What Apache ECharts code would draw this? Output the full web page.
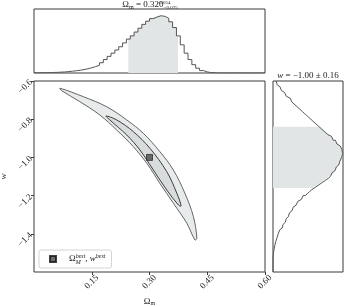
<!DOCTYPE html>
<html>
<head>
<meta charset="utf-8">
<script src="https://cdn.jsdelivr.net/npm/echarts@6/dist/echarts.min.js"></script>
<style>
  html, body { margin: 0; padding: 0; background: #fff; }
  #chart { width: 350px; height: 307px; }
</style>
</head>
<body>
<div id="chart"></div>
<script>
  // marginal of Omega_m, bins of 0.01 starting at 0.00
  var omStart = 0.0, omStep = 0.01;
  var omHist = [
    0.003, 0.004, 0.005, 0.006, 0.008, 0.010, 0.013, 0.016, 0.022, 0.028,
    0.035, 0.043, 0.053, 0.066, 0.082, 0.10, 0.12, 0.16, 0.21, 0.26,
    0.31, 0.36, 0.41, 0.47, 0.53, 0.58, 0.64, 0.70, 0.76, 0.81,
    0.85, 0.875, 0.895, 0.885, 0.855, 0.80, 0.71, 0.58, 0.44, 0.31,
    0.21, 0.13, 0.075, 0.038, 0.017, 0.007, 0.003, 0, 0, 0,
    0, 0, 0, 0, 0, 0, 0, 0, 0, 0
  ];
  var omBand = [0.245, 0.374];

  // marginal of w, bins of 0.01 starting at -1.60
  var wStart = -1.6, wStep = 0.01;
  var wHist = [
    0, 0, 0, 0, 0, 0, 0, 0.002, 0.004, 0.007,
    0.010, 0.015, 0.020, 0.026, 0.033, 0.040, 0.050, 0.058, 0.066, 0.075,
    0.085, 0.095, 0.115, 0.13, 0.145, 0.16, 0.175, 0.19, 0.205, 0.22,
    0.235, 0.25, 0.27, 0.29, 0.31, 0.33, 0.355, 0.38, 0.405, 0.43,
    0.46, 0.49, 0.52, 0.55, 0.59, 0.63, 0.67, 0.71, 0.75, 0.79,
    0.82, 0.845, 0.865, 0.885, 0.905, 0.92, 0.94, 0.955, 0.97, 0.98,
    0.99, 0.995, 0.99, 0.985, 0.975, 0.96, 0.94, 0.915, 0.89, 0.86,
    0.835, 0.81, 0.78, 0.75, 0.72, 0.69, 0.66, 0.63, 0.60, 0.57,
    0.54, 0.51, 0.48, 0.45, 0.42, 0.39, 0.36, 0.33, 0.30, 0.27,
    0.245, 0.22, 0.19, 0.165, 0.14, 0.12, 0.10, 0.08, 0.06, 0.045
  ];
  var wBand = [-1.16, -0.84];

  // 2D contours (outer = 2 sigma, inner = 1 sigma)
  var outerX = [0.0675, 0.128, 0.189, 0.241, 0.284, 0.327, 0.362, 0.392, 0.414, 0.423,
                0.418, 0.397, 0.362, 0.327, 0.293, 0.258, 0.215, 0.171, 0.119, 0.072];
  var outerY = [-0.638, -0.682, -0.735, -0.804, -0.874, -0.970, -1.066, -1.188, -1.310, -1.424,
                -1.432, -1.345, -1.240, -1.136, -1.031, -0.944, -0.857, -0.778, -0.708, -0.651];
  var innerX = [0.187, 0.215, 0.258, 0.301, 0.345, 0.371, 0.382,
                0.375, 0.345, 0.310, 0.275, 0.241, 0.197];
  var innerY = [-0.783, -0.804, -0.865, -0.952, -1.075, -1.188, -1.254,
                -1.249, -1.171, -1.066, -0.961, -0.883, -0.804];

  var bestX = [0.30];
  var bestY = [-1.00];

  var omTicks = [0.15, 0.30, 0.45, 0.60];
  var wTicks = [-0.6, -0.8, -1.0, -1.2, -1.4];

  var serif = 'Liberation Serif';
  var txtCol = '#222';
  var lineCol = '#555';
  var frameCol = '#3a3a3a';

  function edge(start, step, i) {
    return +(start + step * i).toFixed(4);
  }

  // step outline of a histogram; vertical=true swaps axes (value on x)
  function stepLine(start, step, vals, vertical) {
    var pts = [];
    vals.forEach(function (v, i) {
      var a = edge(start, step, i), b = edge(start, step, i + 1);
      pts.push(vertical ? [v, a] : [a, v]);
      pts.push(vertical ? [v, b] : [b, v]);
    });
    return pts;
  }

  // area under histogram clipped to band
  function stepBand(start, step, vals, band, vertical) {
    var pts = [vertical ? [0, band[0]] : [band[0], 0]];
    vals.forEach(function (v, i) {
      var a = Math.max(edge(start, step, i), band[0]);
      var b = Math.min(edge(start, step, i + 1), band[1]);
      if (a < b) {
        pts.push(vertical ? [v, a] : [a, v]);
        pts.push(vertical ? [v, b] : [b, v]);
      }
    });
    pts.push(vertical ? [0, band[1]] : [band[1], 0]);
    return pts;
  }

  function zip(xs, ys) {
    return xs.map(function (x, i) { return [x, ys[i]]; });
  }

  function polySeries(pts, axisIdx, style, smooth, z) {
    return {
      type: 'custom',
      xAxisIndex: axisIdx,
      yAxisIndex: axisIdx,
      silent: true,
      z: z,
      data: [pts[0]],
      renderItem: function (params, api) {
        return {
          type: 'polygon',
          shape: { points: pts.map(function (p) { return api.coord(p); }), smooth: smooth },
          style: style
        };
      }
    };
  }

  function txt(size, extra) {
    var s = { fontFamily: serif, fontSize: size, fontWeight: 'normal', color: txtCol };
    for (var k in extra) s[k] = extra[k];
    return s;
  }

  function panel(left, top, width, height) {
    return {
      left: left, top: top, width: width, height: height,
      show: true, borderColor: frameCol, borderWidth: 1,
      backgroundColor: 'transparent',
      outerBoundsMode: 'none'
    };
  }

  var chart = echarts.init(document.getElementById('chart'));

  var hidden = { show: false };

  chart.setOption({
    animation: false,
    title: [{
      text: '{o|Ω}{s|m}{t| = 0.320}{p|+0.054}{b|−0.075}',
      left: 150,
      top: 0,
      textAlign: 'center',
      padding: 0,
      textStyle: {
        fontWeight: 'normal',
        rich: {
          o: txt(9, { lineHeight: 10 }),
          s: txt(6, { verticalAlign: 'bottom' }),
          t: txt(9, { lineHeight: 10 }),
          p: txt(5, { verticalAlign: 'top', width: 0 }),
          b: txt(5, { verticalAlign: 'bottom' })
        }
      }
    }, {
      text: '{w|w}{t| = −1.00 ± 0.16}',
      left: 308,
      top: 71,
      textAlign: 'center',
      padding: 0,
      textStyle: {
        fontWeight: 'normal',
        rich: {
          w: txt(9, { fontStyle: 'italic' }),
          t: txt(9)
        }
      }
    }],
    legend: {
      data: ['best'],
      left: 39,
      top: 250,
      z: 1,
      orient: 'vertical',
      padding: [3, 6, 3, 10],
      itemWidth: 6,
      itemHeight: 6,
      backgroundColor: '#fff',
      borderColor: '#d4d4d4',
      borderWidth: 1,
      borderRadius: 2,
      formatter: function () {
        return '{o|Ω}{s|M}{p|best}{t|, }{w|w}{p|best}';
      },
      textStyle: {
        padding: [0, 0, 0, 8],
        rich: {
          o: txt(9, { lineHeight: 12 }),
          s: txt(6, { fontStyle: 'italic', verticalAlign: 'bottom', width: 0 }),
          p: txt(6, { fontStyle: 'italic', verticalAlign: 'top' }),
          t: txt(9),
          w: txt(9, { fontStyle: 'italic' })
        }
      }
    },
    grid: [
      panel(34, 9, 231, 64),
      panel(34, 81, 231, 191),
      panel(273, 81, 70, 191)
    ],
    xAxis: [
      { gridIndex: 0, type: 'value', min: 0, max: 0.6, show: false },
      {
        gridIndex: 1, type: 'value', min: 0, max: 0.6, interval: 0.15,
        name: '{o|Ω}{s|m}', nameLocation: 'middle', nameGap: 25,
        nameMoveOverlap: false,
        nameTextStyle: {
          rich: {
            o: txt(9),
            s: txt(6, { verticalAlign: 'bottom' })
          }
        },
        axisLine: hidden,
        splitLine: hidden,
        axisTick: { length: 3, lineStyle: { color: frameCol } },
        axisLabel: {
          rotate: 45, margin: 10, align: 'center', verticalAlign: 'middle',
          hideOverlap: false,
          showMinLabel: false,
          fontFamily: serif, fontSize: 9, color: txtCol,
          formatter: function (v) {
            return omTicks.some(function (t) { return Math.abs(t - v) < 1e-6; }) ? v.toFixed(2) : '';
          }
        }
      },
      { gridIndex: 2, type: 'value', min: 0, max: 1, show: false }
    ],
    yAxis: [
      { gridIndex: 0, type: 'value', min: 0, max: 1, show: false },
      {
        gridIndex: 1, type: 'value', min: -1.6, max: -0.6, interval: 0.2,
        name: 'w', nameLocation: 'middle', nameGap: 26, nameRotate: 90,
        nameMoveOverlap: false,
        nameTextStyle: txt(9, { fontStyle: 'italic' }),
        axisLine: hidden,
        splitLine: hidden,
        axisTick: { length: 3, lineStyle: { color: frameCol } },
        axisLabel: {
          rotate: 45, margin: 3,
          hideOverlap: false,
          showMinLabel: false,
          fontFamily: serif, fontSize: 9, color: txtCol,
          formatter: function (v) {
            var ok = wTicks.some(function (t) { return Math.abs(t - v) < 1e-6; });
            return ok ? '\u2212' + Math.abs(v).toFixed(1) : '';
          }
        }
      },
      { gridIndex: 2, type: 'value', min: -1.6, max: -0.6, show: false }
    ],
    series: [
      polySeries(zip(outerX, outerY), 1, { fill: '#e8ebeb', stroke: lineCol, lineWidth: 0.9 }, 0.35, 2),
      polySeries(zip(innerX, innerY), 1, { fill: '#d9dcdd', stroke: '#3c3c3c', lineWidth: 1 }, 0.35, 3),
      {
        name: 'best',
        type: 'scatter',
        xAxisIndex: 1, yAxisIndex: 1,
        symbol: 'rect',
        symbolSize: 6,
        z: 5,
        itemStyle: { color: '#4a4a4a', borderColor: '#111', borderWidth: 0.8 },
        data: zip(bestX, bestY)
      },
      polySeries(stepBand(omStart, omStep, omHist, omBand, false), 0, { fill: '#e2e5e5' }, 0, 2),
      {
        type: 'line', xAxisIndex: 0, yAxisIndex: 0, z: 3,
        showSymbol: false, silent: true,
        lineStyle: { color: lineCol, width: 1 },
        data: stepLine(omStart, omStep, omHist, false)
      },
      polySeries(stepBand(wStart, wStep, wHist, wBand, true), 2, { fill: '#e2e5e5' }, 0, 2),
      {
        type: 'line', xAxisIndex: 2, yAxisIndex: 2, z: 3,
        showSymbol: false, silent: true,
        lineStyle: { color: lineCol, width: 1 },
        data: stepLine(wStart, wStep, wHist, true)
      }
    ]
  });
</script>
</body>
</html>
